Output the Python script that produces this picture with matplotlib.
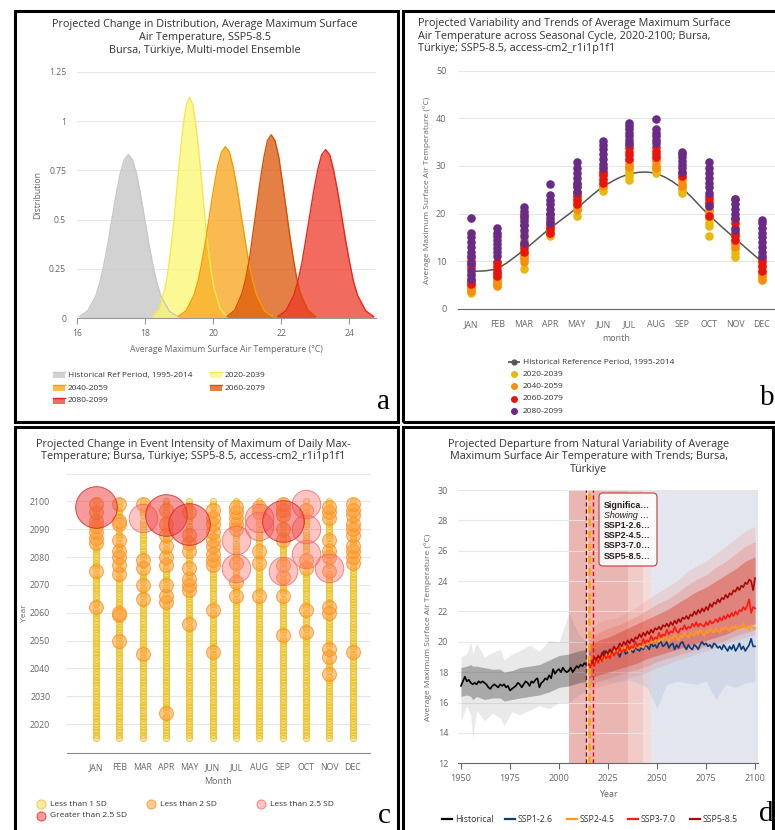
import numpy as np
import matplotlib
matplotlib.use('Agg')
import matplotlib.pyplot as plt
from matplotlib.patches import Rectangle, FancyBboxPatch, PathPatch
from matplotlib.lines import Line2D
from matplotlib.path import Path

plt.rcParams['font.family'] = ['Open Sans', 'DejaVu Sans']

W, H, DPI = 775, 830, 100

# ---------------- panel a: distributions ----------------
dist_labels = ['Historical Ref Period, 1995-2014', '2020-2039', '2040-2059', '2060-2079', '2080-2099']
ref_x = [16.06, 16.30, 16.54, 16.66, 16.78, 16.90, 17.02, 17.14, 17.26, 17.38, 17.50,
         17.62, 17.74, 17.86, 17.98, 18.10, 18.22, 18.34, 18.46, 18.70, 18.94]
ref_y = [0.009, 0.037, 0.112, 0.179, 0.270, 0.380, 0.504, 0.627, 0.732, 0.804, 0.830,
         0.804, 0.732, 0.627, 0.504, 0.380, 0.270, 0.179, 0.112, 0.037, 0.009]
p2020_x = [18.22, 18.40, 18.58, 18.67, 18.76, 18.85, 18.94, 19.03, 19.12, 19.21, 19.30,
           19.39, 19.48, 19.57, 19.66, 19.75, 19.84, 19.93, 20.02, 20.20, 20.38]
p2020_y = [0.012, 0.049, 0.151, 0.242, 0.364, 0.513, 0.680, 0.846, 0.988, 1.085, 1.120,
           1.085, 0.988, 0.846, 0.680, 0.513, 0.364, 0.242, 0.151, 0.049, 0.012]
p2040_x = [18.97, 19.20, 19.43, 19.55, 19.66, 19.78, 19.89, 20.01, 20.12, 20.24, 20.35,
           20.47, 20.58, 20.70, 20.81, 20.93, 21.04, 21.16, 21.27, 21.50, 21.73]
p2040_y = [0.010, 0.038, 0.117, 0.188, 0.283, 0.398, 0.528, 0.657, 0.767, 0.843, 0.870,
           0.843, 0.767, 0.657, 0.528, 0.398, 0.283, 0.188, 0.117, 0.038, 0.010]
p2060_x = [20.41, 20.63, 20.84, 20.95, 21.06, 21.16, 21.27, 21.38, 21.49, 21.59, 21.70,
           21.81, 21.92, 22.02, 22.13, 22.24, 22.35, 22.45, 22.56, 22.78, 22.99]
p2060_y = [0.010, 0.041, 0.126, 0.201, 0.302, 0.426, 0.565, 0.702, 0.820, 0.901, 0.930,
           0.901, 0.820, 0.702, 0.565, 0.426, 0.302, 0.201, 0.126, 0.041, 0.010]
p2080_x = [21.89, 22.13, 22.36, 22.48, 22.60, 22.71, 22.83, 22.95, 23.07, 23.18, 23.30,
           23.42, 23.53, 23.65, 23.77, 23.89, 24.01, 24.12, 24.24, 24.48, 24.71]
p2080_y = [0.009, 0.038, 0.115, 0.185, 0.278, 0.392, 0.519, 0.646, 0.754, 0.828, 0.855,
           0.828, 0.754, 0.646, 0.519, 0.392, 0.278, 0.185, 0.115, 0.038, 0.009]

# ---------------- panel b: seasonal cycle ----------------
months = ['JAN', 'FEB', 'MAR', 'APR', 'MAY', 'JUN', 'JUL', 'AUG', 'SEP', 'OCT', 'NOV', 'DEC']
ref_cycle = [7.8, 8.5, 12.3, 16.9, 21.1, 25.6, 28.3, 28.4, 25.2, 19.7, 14.7, 9.9]
b_2020 = [[3.2, 3.8, 4.5, 5.0], [5.0, 5.5, 6.2], [8.3, 10.8, 11.5, 12.2], [15.3, 15.8, 16.5],
          [19.5, 21.0, 21.8], [24.8, 25.3, 26.0, 27.0], [27.1, 27.8, 28.5, 29.2, 29.8],
          [28.6, 29.2, 29.8], [24.3, 25.0, 25.5], [15.2, 17.3, 18.0, 18.8, 19.5, 20.8, 21.5],
          [10.8, 11.8, 12.5, 13.5], [6.5, 7.2, 8.0]]
b_2040 = [[3.8, 4.3, 4.8, 5.5, 6.2, 7.2], [4.8, 5.3, 6.0, 6.6, 7.5, 9.5],
          [9.8, 10.5, 11.2, 13.5, 14.5, 16.0], [15.6, 16.2, 17.0, 17.8],
          [20.8, 21.5, 22.2, 23.0, 24.0], [25.8, 26.5, 28.0, 29.0, 29.8], [29.8, 30.5, 31.3],
          [29.5, 30.2, 31.0, 31.5], [25.7, 26.3, 27.0, 27.5], [20.0, 20.8, 21.6, 22.5],
          [13.0, 13.8, 14.5, 15.5], [6.1, 6.8, 7.5, 8.8, 9.5]]
b_2060 = [[5.2, 5.8, 8.5, 9.2, 10.0, 10.8], [6.8, 7.5, 8.2, 9.0, 9.8],
          [12.0, 12.8, 13.3, 17.5, 19.0, 20.0], [16.0, 16.7, 17.4, 18.5, 20.0],
          [22.0, 22.8, 23.6, 24.5, 26.0], [26.5, 27.3, 28.0, 28.8],
          [31.5, 32.3, 33.0, 33.8, 34.5], [31.8, 32.5, 33.2, 34.0], [27.8, 28.5],
          [19.4, 22.2, 23.0, 23.6], [14.5, 15.3, 16.0, 17.0, 18.0, 18.8, 23.0],
          [8.0, 9.0, 10.0, 10.6]]
b_2080 = [[6.2, 7.0, 8.0, 9.5, 11.0, 12.0, 13.0, 14.0, 15.0, 16.0, 19.0],
          [11.0, 12.0, 12.8, 13.5, 14.5, 15.3, 16.0, 17.0],
          [13.8, 15.2, 16.5, 17.5, 18.5, 19.5, 20.5, 21.3],
          [18.0, 19.0, 20.0, 21.0, 22.0, 22.8, 23.8, 26.2],
          [24.5, 25.5, 26.5, 27.5, 28.5, 29.5, 30.8],
          [29.5, 30.5, 31.5, 32.5, 33.5, 34.5, 35.3],
          [34.8, 35.5, 36.3, 37.0, 37.8, 38.5, 39.0],
          [34.8, 35.5, 36.3, 37.0, 37.7, 39.9],
          [28.8, 29.5, 30.3, 31.0, 31.8, 32.5, 33.0],
          [21.6, 24.3, 25.5, 26.5, 27.5, 28.5, 29.5, 30.9],
          [16.5, 19.0, 20.0, 21.0, 22.0, 23.0],
          [11.0, 12.0, 13.0, 14.0, 15.0, 16.0, 17.0, 18.0, 18.7]]

# ---------------- panel c: event intensity ----------------
c_orange = [[2062, 2075, 2085, 2087, 2089, 2091, 2093, 2096, 2099],
            [2050, 2059, 2060, 2074, 2077, 2080, 2082, 2086, 2092, 2093, 2099],
            [2045, 2065, 2070, 2076, 2079, 2099],
            [2024, 2064, 2066, 2070, 2077, 2080, 2084, 2088, 2092, 2097],
            [2056, 2068, 2070, 2072, 2076, 2082, 2085, 2088, 2096],
            [2046, 2061, 2077, 2079, 2081, 2084, 2086, 2089, 2092, 2094, 2097],
            [2066, 2071, 2078, 2090, 2092, 2094, 2096, 2098],
            [2066, 2078, 2082, 2096, 2098],
            [2052, 2066, 2073, 2077, 2086, 2090, 2095, 2097, 2099],
            [2053, 2061, 2076, 2079, 2097],
            [2038, 2044, 2047, 2060, 2062, 2075, 2080, 2082, 2086, 2094, 2096, 2098],
            [2046, 2078, 2080, 2082, 2084, 2088, 2090, 2092, 2095, 2097, 2099]]
c_pink = [[], [], [2094], [], [], [], [2076, 2086], [2091, 2094], [2075], [2081, 2090, 2099], [2076], []]
c_red = [[2098], [], [], [2095], [2092], [], [], [], [2093], [], [], []]
c_first_year, c_last_year = 2015, 2100

# ---------------- panel d: departure from natural variability ----------------
hist_start, ssp_start = 1950, 2015
hist_mean = [17.1, 17.4, 17.7, 17.4, 17.5, 17.3, 17.2, 17.3, 17.2, 17.4,
             17.3, 17.4, 17.3, 17.2, 17.0, 16.9, 17.1, 17.2, 17.1, 17.0,
             17.2, 17.1, 17.2, 17.0, 17.1, 16.8, 16.9, 17.0, 17.1, 17.3,
             17.2, 17.0, 17.2, 17.4, 17.3, 17.1, 17.4, 17.3, 17.5, 17.6,
             17.0, 17.3, 17.4, 17.6, 17.5, 17.8, 17.6, 18.2, 17.9, 18.1,
             18.2, 18.0, 18.3, 18.1, 18.0, 18.1, 18.3, 18.0, 18.2, 18.4,
             18.3, 18.5, 18.4, 18.6, 18.5]
ssp126 = [18.8, 18.4, 18.6, 18.9, 18.7, 19.0, 18.8, 19.2, 19.4, 19.1,
          19.3, 19.5, 19.2, 19.1, 19.4, 19.3, 19.0, 19.4, 19.5, 19.2,
          19.3, 19.6, 19.4, 19.3, 19.7, 19.5, 19.4, 19.6, 19.5, 19.8,
          19.7, 19.5, 19.9, 19.7, 19.8, 19.6, 19.9, 20.0, 19.7, 19.8,
          20.0, 19.6, 19.8, 19.9, 19.5, 19.8, 19.6, 19.9, 20.0, 19.7,
          19.5, 19.8, 19.6, 19.5, 19.8, 19.7, 19.5, 19.8, 20.0, 19.8,
          19.9, 19.7, 19.8, 19.6, 19.9, 19.8, 19.6, 19.7, 19.5, 19.8,
          19.6, 19.4, 19.7, 19.5, 19.8, 19.4, 19.6, 19.9, 19.5, 19.7,
          19.4, 19.6, 19.8, 20.2, 19.7, 19.7]
ssp245 = [18.3, 18.5, 18.4, 18.8, 18.6, 18.9, 18.7, 19.0, 18.8, 19.2,
          19.0, 19.3, 19.1, 19.5, 19.2, 19.4, 19.3, 19.6, 19.4, 19.7,
          19.5, 19.3, 19.6, 19.5, 19.8, 19.6, 19.9, 19.7, 19.6, 19.9,
          19.8, 20.1, 19.9, 20.2, 20.0, 20.3, 20.0, 20.2, 20.1, 20.4,
          20.2, 20.0, 20.3, 20.2, 20.5, 20.3, 20.1, 20.4, 20.3, 20.6,
          20.4, 20.3, 20.6, 20.5, 20.4, 20.7, 20.5, 20.8, 20.6, 20.4,
          20.7, 20.6, 20.9, 20.7, 20.6, 20.9, 20.7, 20.6, 20.9, 20.8,
          21.0, 20.8, 20.7, 21.0, 20.9, 21.1, 20.8, 21.0, 20.9, 21.2,
          20.9, 21.0, 20.8, 21.1, 20.9, 20.9]
ssp370 = [18.6, 18.3, 18.7, 18.4, 18.9, 18.6, 19.0, 18.7, 19.2, 18.9,
          19.1, 18.9, 19.4, 19.1, 19.3, 19.2, 19.6, 19.3, 19.5, 19.4,
          19.8, 19.5, 19.7, 19.6, 20.0, 19.7, 19.9, 19.8, 20.2, 19.9,
          20.1, 20.0, 20.4, 20.1, 20.3, 20.2, 20.6, 20.3, 20.5, 20.4,
          20.8, 20.5, 20.7, 20.6, 21.0, 20.7, 20.6, 20.9, 20.8, 21.1,
          20.8, 21.0, 20.9, 21.2, 21.0, 21.3, 21.0, 21.2, 21.1, 21.0,
          21.3, 21.1, 21.4, 21.2, 21.3, 21.5, 21.3, 21.6, 21.4, 21.7,
          21.5, 21.8, 21.6, 21.9, 21.7, 22.0, 21.8, 22.1, 22.0, 22.3,
          22.1, 22.4, 22.8, 21.9, 22.3, 22.2]
ssp585 = [18.5, 18.8, 18.6, 19.0, 18.8, 19.1, 18.9, 19.3, 19.1, 19.4,
          19.2, 19.5, 19.3, 19.7, 19.5, 19.6, 19.9, 19.7, 20.0, 19.8,
          20.1, 19.9, 20.2, 20.0, 20.3, 20.2, 20.5, 20.3, 20.6, 20.4,
          20.7, 20.5, 20.8, 20.6, 20.9, 20.8, 21.0, 20.8, 21.1, 21.0,
          21.2, 21.0, 21.3, 21.1, 21.4, 21.2, 21.5, 21.3, 21.6, 21.5,
          21.7, 21.5, 21.8, 21.7, 22.0, 21.8, 22.1, 21.9, 22.2, 22.0,
          22.3, 22.1, 22.5, 22.3, 22.6, 22.5, 22.8, 22.6, 22.9, 22.8,
          23.1, 22.9, 23.2, 23.1, 23.4, 23.3, 23.6, 23.4, 23.7, 23.6,
          23.9, 23.8, 24.1, 24.0, 23.4, 24.2]

hist_cloud_years = [1950, 1953, 1955, 1956, 1958, 1962, 1966, 1970, 1972, 1976, 1980, 1985, 1990, 1995, 2000, 2005, 2010, 2014]
hist_outer_lo = [14.8, 15.8, 15.2, 13.6, 15.5, 14.8, 15.3, 15.0, 14.5, 15.4, 15.2, 15.5, 15.8, 15.6, 16.0, 16.0, 16.5, 16.8]
hist_outer_hi = [19.0, 19.2, 20.0, 19.2, 19.9, 19.0, 19.3, 19.5, 18.8, 19.2, 19.4, 19.8, 19.4, 20.1, 20.0, 21.9, 20.5, 20.0]
hist_inner_lo = [16.4, 16.5, 16.4, 16.2, 16.4, 16.2, 16.3, 16.3, 16.1, 16.2, 16.3, 16.4, 16.5, 16.7, 17.0, 17.1, 17.3, 17.4]
hist_inner_hi = [18.3, 18.4, 18.5, 18.4, 18.4, 18.3, 18.2, 18.2, 18.0, 18.1, 18.3, 18.4, 18.5, 18.8, 19.1, 19.2, 19.4, 19.5]
fut_cloud_years = [2015, 2020, 2025, 2030, 2035, 2040, 2045, 2050, 2055, 2060, 2065, 2070, 2075, 2080, 2085, 2090, 2095, 2100]
red_outer_lo = [16.8, 17.0, 17.2, 17.4, 17.6, 17.8, 18.0, 18.3, 18.5, 18.8, 19.0, 19.2, 19.4, 19.6, 19.9, 20.1, 20.3, 20.5]
red_outer_hi = [20.5, 21.3, 21.5, 21.6, 22.0, 22.3, 22.8, 23.2, 23.6, 24.0, 24.6, 25.0, 25.3, 25.8, 26.3, 26.8, 27.3, 27.6]
red_mid_lo = [17.2, 17.4, 17.6, 17.8, 18.0, 18.2, 18.4, 18.7, 18.9, 19.1, 19.3, 19.5, 19.7, 19.9, 20.1, 20.4, 20.6, 20.8]
red_mid_hi = [20.1, 20.6, 20.9, 21.1, 21.4, 21.7, 22.1, 22.5, 22.8, 23.2, 23.7, 24.1, 24.4, 24.9, 25.3, 25.8, 26.3, 26.6]
red_inner_lo = [17.6, 17.8, 18.0, 18.2, 18.4, 18.6, 18.9, 19.1, 19.3, 19.5, 19.7, 19.9, 20.1, 20.3, 20.5, 20.8, 21.0, 21.2]
red_inner_hi = [19.8, 20.1, 20.3, 20.6, 20.9, 21.2, 21.5, 21.8, 22.1, 22.5, 22.9, 23.3, 23.6, 24.0, 24.4, 24.8, 25.3, 25.6]
blue_lo = [17.2, 17.3, 17.4, 17.3, 17.5, 17.3, 17.0, 15.6, 17.2, 17.4, 17.3, 17.2, 17.4, 16.2, 17.2, 17.0, 17.3, 17.4]
blue_hi = [19.4, 19.7, 19.9, 20.0, 20.1, 20.2, 20.3, 20.4, 20.5, 20.5, 20.6, 20.6, 20.7, 20.7, 20.8, 20.8, 20.9, 20.9]
d_bands = [(2005.1, 2035.2, '#ebb6b2'), (2035.2, 2042.6, '#f1cbc8'), (2042.6, 2047.0, '#f5dcda'), (2047.0, 2101.5, '#e4e6ef')]
tooltip_lines = ['Significa…', 'Showing …', 'SSP1-2.6…', 'SSP2-4.5…', 'SSP3-7.0…', 'SSP5-8.5…']

TITLE = '#333333'
LABEL = '#666666'
GRID = '#e6e6e6'
TITLE_SIZE = 7.85

fig = plt.figure(figsize=(W / DPI, H / DPI), dpi=DPI)


def fx(x):
    return x / W


def fy(y):
    return 1 - y / H


def add_ax(x0, y0, x1, y1):
    return fig.add_axes([x0 / W, 1 - y1 / H, (x1 - x0) / W, (y1 - y0) / H])


def ftext(x, y, s, **kw):
    kw.setdefault('va', 'center')
    return fig.text(fx(x), fy(y), s, **kw)


def pix_rect(x0, y0, x1, y1, **kw):
    return Rectangle((x0 / DPI, (H - y1) / DPI), (x1 - x0) / DPI, (y1 - y0) / DPI,
                     transform=fig.dpi_scale_trans, **kw)


def base_style(ax):
    for side in ('top', 'right', 'left'):
        ax.spines[side].set_visible(False)
    ax.spines['bottom'].set_color('#999999')
    ax.tick_params(axis='y', length=0, labelcolor=LABEL)
    ax.tick_params(axis='x', labelcolor=LABEL)
    ax.set_facecolor('none')


def smooth_path(xs, ys):
    pts = np.column_stack([xs, ys]).astype(float)
    verts, codes = [pts[0]], [Path.MOVETO]
    n = len(pts)
    for i in range(n - 1):
        p0, p1 = pts[max(i - 1, 0)], pts[i]
        p2, p3 = pts[i + 1], pts[min(i + 2, n - 1)]
        verts += [p1 + (p2 - p0) / 6, p2 - (p3 - p1) / 6, p2]
        codes += [Path.CURVE4] * 3
    return Path(verts, codes)


# ======================= panel a =======================
ax = add_ax(77.3, 71.7, 376, 318.3)
base_style(ax)
ax.set_xlim(16, 24.78)
ax.set_ylim(0, 1.25)
ax.set_yticks([0, 0.25, 0.5, 0.75, 1, 1.25])
ax.set_yticklabels(['0', '0.25', '0.5', '0.75', '1', '1.25'])
ax.set_xticks([16, 18, 20, 22, 24])
ax.tick_params(axis='y', labelsize=6.2, pad=8)
ax.tick_params(axis='x', labelsize=6.2, length=4, color='#999999', pad=4)
for v in [0.25, 0.5, 0.75, 1, 1.25]:
    ax.axhline(v, color=GRID, lw=0.8, zorder=0)
dist_series = [(ref_x, ref_y, '#c4c4c4', '#c8c8c8'),
               (p2020_x, p2020_y, '#fcf871', '#f2ea4a'),
               (p2040_x, p2040_y, '#f9a318', '#f59d00'),
               (p2060_x, p2060_y, '#dc5407', '#d85000'),
               (p2080_x, p2080_y, '#ed3928', '#e8281c')]
for xs, ys, fill, edge in dist_series:
    ax.fill_between(xs, ys, color=fill, alpha=0.75, lw=0, zorder=2)
    ax.plot(xs, ys, color=edge, lw=1.0, zorder=3)

ftext(205, 24, 'Projected Change in Distribution, Average Maximum Surface', ha='center', fontsize=TITLE_SIZE, color=TITLE)
ftext(205, 37.5, 'Air Temperature, SSP5-8.5', ha='center', fontsize=TITLE_SIZE, color=TITLE)
ftext(205, 51, 'Bursa, Türkiye, Multi-model Ensemble', ha='center', fontsize=TITLE_SIZE, color=TITLE)
ftext(38, 195, 'Distribution', ha='center', rotation=90, fontsize=6.2, color=LABEL)
ftext(226, 349, 'Average Maximum Surface Air Temperature (°C)', ha='center', fontsize=6.2, color=LABEL)

leg_pos = [(53, 375), (210, 375), (53, 388), (210, 388), (53, 401)]
for (lx, ly), label, (_, _, fill, edge) in zip(leg_pos, dist_labels, dist_series):
    fig.add_artist(pix_rect(lx, ly - 3, lx + 12, ly + 3, facecolor=fill, alpha=0.75, edgecolor='none'))
    fig.add_artist(Line2D([fx(lx), fx(lx + 12)], [fy(ly - 2.5), fy(ly - 2.5)], color=edge, lw=1,
                          transform=fig.transFigure))
    ftext(lx + 15, ly, label, fontsize=6.0, color='#333333')

# ======================= panel b =======================
ax = add_ax(457.5, 70.8, 775, 308.7)
base_style(ax)
ax.spines['bottom'].set_color('#666666')
ax.set_xlim(-0.5, 11.5)
ax.set_ylim(0, 50)
ax.set_yticks([0, 10, 20, 30, 40, 50])
ax.set_xticks(range(12))
ax.set_xticklabels(months)
ax.tick_params(axis='y', labelsize=6.5, pad=8)
ax.tick_params(axis='x', labelsize=6.3, length=0, pad=8)
for v in [10, 20, 30, 40, 50]:
    ax.axhline(v, color=GRID, lw=0.8, zorder=0)
ax.add_patch(PathPatch(smooth_path(range(12), ref_cycle), fill=False, edgecolor='#555555', lw=1.1, zorder=2))
period_colors = ['#e8b90c', '#fb8c0e', '#e8150f', '#6b2a86']
for vals, col in zip([b_2020, b_2040, b_2060, b_2080], period_colors):
    for m, column in enumerate(vals):
        ax.scatter([m] * len(column), column, s=38, color=col, lw=0, zorder=3)

ftext(418, 23.5, 'Projected Variability and Trends of Average Maximum Surface', fontsize=TITLE_SIZE, color=TITLE)
ftext(418, 36, 'Air Temperature across Seasonal Cycle, 2020-2100; Bursa,', fontsize=TITLE_SIZE, color=TITLE)
ftext(418, 48.5, 'Türkiye; SSP5-8.5, access-cm2_r1i1p1f1', fontsize=TITLE_SIZE, color=TITLE)
ftext(427, 190, 'Average Maximum Surface Air Temperature (°C)', ha='center', rotation=90, fontsize=6.0, color=LABEL)
ftext(616.5, 338, 'month', ha='center', fontsize=6.5, color=LABEL)

fig.add_artist(Line2D([fx(509), fx(519)], [fy(362), fy(362)], color='#555555', lw=1.3, transform=fig.transFigure))
fig.add_artist(Line2D([fx(514)], [fy(362)], marker='o', ms=3.5, color='#555555', transform=fig.transFigure))
ftext(523, 362, 'Historical Reference Period, 1995-2014', fontsize=6.0, color='#333333')
for i, (label, col) in enumerate(zip(dist_labels[1:], period_colors)):
    yy = 374.2 + i * 12.3
    fig.add_artist(Line2D([fx(514)], [fy(yy)], marker='o', ms=4, color=col, lw=0, transform=fig.transFigure))
    ftext(523, yy, label, fontsize=6.0, color='#333333')

# ======================= panel c =======================
ax = add_ax(67, 473.5, 370, 753)
base_style(ax)
ax.spines['bottom'].set_color('#888888')
ax.set_xlim(-1.25, 11.75)
ax.set_ylim(2009.6, 2110)
ax.set_yticks([2020, 2030, 2040, 2050, 2060, 2070, 2080, 2090, 2100])
ax.set_xticks(range(12))
ax.set_xticklabels(months)
ax.tick_params(axis='y', labelsize=6.3, pad=12)
ax.tick_params(axis='x', labelsize=6.3, length=0, pad=7)
for v in range(2020, 2111, 10):
    ax.axhline(v, color=GRID, lw=0.8, zorder=0)
c_styles = [((0.95, 0.79, 0.18, 0.40), (0.91, 0.74, 0.10, 0.75), 20),
            ((1.00, 0.62, 0.22, 0.55), (1.00, 0.56, 0.12, 0.8), 100),
            ((1.00, 0.45, 0.45, 0.42), (0.94, 0.36, 0.36, 0.7), 420),
            ((0.93, 0.25, 0.25, 0.52), (0.85, 0.15, 0.15, 0.8), 900)]
for m in range(12):
    flagged = set(c_orange[m]) | set(c_pink[m]) | set(c_red[m])
    yellow = [y for y in range(c_first_year, c_last_year + 1) if y not in flagged]
    for k, yrs in enumerate([yellow, c_orange[m], c_pink[m], c_red[m]]):
        if yrs:
            face, edge, size = c_styles[k]
            ax.scatter([m] * len(yrs), yrs, s=size, facecolor=face, edgecolor=edge, lw=0.7, zorder=2 + k)

ftext(193, 444, 'Projected Change in Event Intensity of Maximum of Daily Max-', ha='center', fontsize=TITLE_SIZE, color=TITLE)
ftext(193, 456, 'Temperature; Bursa, Türkiye; SSP5-8.5, access-cm2_r1i1p1f1', ha='center', fontsize=TITLE_SIZE, color=TITLE)
ftext(25, 613, 'Year', ha='center', rotation=90, fontsize=6.0, color=LABEL)
ftext(218, 781, 'Month', ha='center', fontsize=6.5, color=LABEL)
c_leg = [(41, 804, 'Less than 1 SD'), (151, 804, 'Less than 2 SD'),
         (261, 804, 'Less than 2.5 SD'), (41, 815.7, 'Greater than 2.5 SD')]
for (lx, ly, label), (face, edge, _) in zip(c_leg, c_styles):
    fig.add_artist(Line2D([fx(lx)], [fy(ly)], marker='o', ms=6.5, markerfacecolor=face, markeredgecolor=edge,
                          mew=0.7, lw=0, transform=fig.transFigure))
    ftext(lx + 9, ly, label, fontsize=6.0, color='#333333')

# ======================= panel d =======================
ax = add_ax(458, 490, 758, 763.3)
base_style(ax)
ax.spines['bottom'].set_color('#666666')
ax.set_xlim(1948.5, 2101.5)
ax.set_ylim(12, 30)
ax.set_yticks(range(12, 31, 2))
ax.set_xticks([1950, 1975, 2000, 2025, 2050, 2075, 2100])
ax.tick_params(axis='y', labelsize=6.5, pad=7)
ax.tick_params(axis='x', labelsize=6.5, length=4, color='#666666', pad=4)
for x0, x1, col in d_bands:
    ax.axvspan(x0, x1, color=col, lw=0, zorder=0.5)
for v in range(14, 31, 2):
    ax.axhline(v, color=GRID, lw=0.8, zorder=1, alpha=0.9)

ax.fill_between(hist_cloud_years, hist_outer_lo, hist_outer_hi, color='#777777', alpha=0.16, lw=0, zorder=2)
ax.fill_between(hist_cloud_years, hist_inner_lo, hist_inner_hi, color='#333333', alpha=0.35, lw=0, zorder=2)
ax.fill_between(fut_cloud_years, blue_lo, blue_hi, color='#8eaed0', alpha=0.22, lw=0, zorder=2)
ax.fill_between(fut_cloud_years, red_outer_lo, red_outer_hi, color='#ec6a5a', alpha=0.16, lw=0, zorder=2)
ax.fill_between(fut_cloud_years, red_mid_lo, red_mid_hi, color='#e04838', alpha=0.2, lw=0, zorder=2)
ax.fill_between(fut_cloud_years, red_inner_lo, red_inner_hi, color='#d83020', alpha=0.38, lw=0, zorder=2)

hist_years = np.arange(hist_start, hist_start + len(hist_mean))
ssp_years = np.arange(ssp_start, ssp_start + len(ssp126))
ssp_series = [('SSP1-2.6', ssp126, '#0b3d7a'), ('SSP2-4.5', ssp245, '#ff9a1a'),
              ('SSP3-7.0', ssp370, '#ff1a10'), ('SSP5-8.5', ssp585, '#a80a0a')]
ax.plot(hist_years, hist_mean, color='black', lw=1.2, zorder=3)
for _, vals, col in ssp_series:
    ax.plot(ssp_years, vals, color=col, lw=1.2, zorder=3)

ax.axvline(2014.5, color='white', lw=0.8, zorder=4)
ax.axvline(2014.0, color='#8b0000', lw=1.0, ls=(0, (3, 2)), zorder=4)
ax.axvline(2015.1, color='#ffa500', lw=1.8, ls=(0, (3, 2)), zorder=4)
ax.axvline(2017.2, color='#ff0000', lw=1.0, ls=(0, (3, 2)), zorder=4)

box = FancyBboxPatch((599 / DPI, (H - 566) / DPI), 58 / DPI, 73 / DPI,
                     boxstyle='round,pad=0,rounding_size=0.04', transform=fig.dpi_scale_trans,
                     facecolor=(1, 1, 1, 0.88), edgecolor='#c0504d', lw=0.9, zorder=10)
fig.add_artist(box)
for i, line in enumerate(tooltip_lines):
    style = 'italic' if i == 1 else 'normal'
    weight = 'normal' if i == 1 else 'bold'
    ftext(604, 505 + i * 10.2, line, fontsize=6.4, family=['Liberation Sans', 'DejaVu Sans'],
          fontstyle=style, fontweight=weight, color='#222222', zorder=11)

ftext(589, 444, 'Projected Departure from Natural Variability of Average', ha='center', fontsize=TITLE_SIZE, color=TITLE)
ftext(589, 456.7, 'Maximum Surface Air Temperature with Trends; Bursa,', ha='center', fontsize=TITLE_SIZE, color=TITLE)
ftext(589, 469.3, 'Türkiye', ha='center', fontsize=TITLE_SIZE, color=TITLE)
ftext(428, 627, 'Average Maximum Surface Air Temperature (°C)', ha='center', rotation=90, fontsize=6.0, color=LABEL)
ftext(608, 794, 'Year', ha='center', fontsize=6.5, color=LABEL)
d_leg = [(442, 'Historical', 'black')] + [(x, n, c) for x, (n, _, c) in zip([505, 567, 628, 690], ssp_series)]
for lx, label, col in d_leg:
    fig.add_artist(Line2D([fx(lx), fx(lx + 10)], [fy(819), fy(819)], color=col, lw=1.6, transform=fig.transFigure))
    ftext(lx + 13, 819, label, fontsize=6.3, color='#333333')

# ======================= frames and letters =======================
for x0, y0, x1, y1 in [(15, 11, 398, 422), (403, 11, 790, 422), (15, 427, 398, 845), (403, 427, 773, 845)]:
    fig.add_artist(pix_rect(x0, y0, x1, y1, fill=False, edgecolor='black', lw=2.2))
serif = ['Liberation Serif', 'DejaVu Serif']
ftext(383, 402, 'a', fontsize=21, family=serif, ha='center')
ftext(767, 398, 'b', fontsize=21, family=serif, ha='center')
ftext(384, 816, 'c', fontsize=21, family=serif, ha='center')
ftext(766, 814, 'd', fontsize=21, family=serif, ha='center')

fig.savefig('out.png', dpi=DPI)
